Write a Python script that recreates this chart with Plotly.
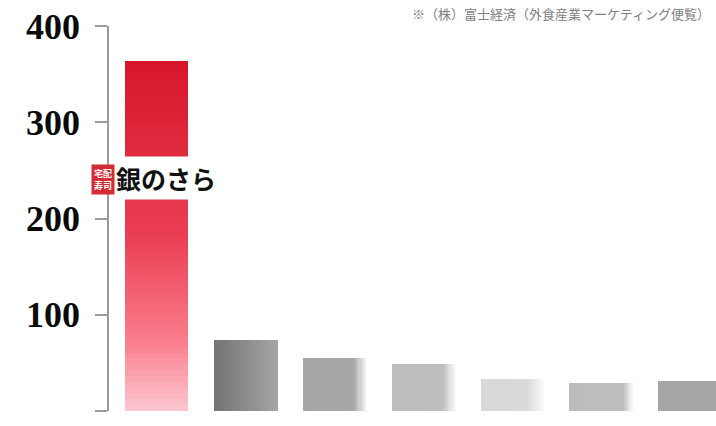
import plotly.graph_objects as go

categories = ["銀のさら", "2位", "3位", "4位", "5位", "6位", "7位"]
values = [364, 74, 55, 49, 33, 29, 31]
y_ticks = [0, 100, 200, 300, 400]

# styling
BAR_W = 0.71
red_stops = [(0.0, (214, 22, 40)), (0.5, (234, 62, 84)), (0.8, (250, 125, 140)), (1.0, (252, 200, 208))]
# per gray bar: left rgb, right rgb, fade start fraction (None = no fade)
gray_specs = [
    ((116, 116, 116), (165, 165, 165), None),
    ((166, 166, 166), (168, 168, 168), 0.80),
    ((189, 189, 189), (190, 190, 190), 0.80),
    ((217, 217, 217), (218, 218, 218), 0.75),
    ((188, 188, 188), (190, 190, 190), 0.85),
    ((166, 166, 166), (166, 166, 166), 0.95),
]


def lerp(c1, c2, t):
    return tuple(round(a + (b - a) * t) for a, b in zip(c1, c2))


def rgb(c):
    return "rgb(%d,%d,%d)" % c


def red_at(f):
    for (f0, c0), (f1, c1) in zip(red_stops[:-1], red_stops[1:]):
        if f0 <= f <= f1:
            return lerp(c0, c1, (f - f0) / (f1 - f0))
    return red_stops[-1][1]


fig = go.Figure()

# red bar: vertical gradient built from stacked segments
M = 60
for j in range(M):
    frac_top = 1 - (j + 0.5) / M
    fig.add_trace(go.Bar(
        x=[categories[0]], y=[values[0] / M * 1.02], base=[values[0] * j / M],
        width=BAR_W, offset=-BAR_W / 2,
        marker=dict(color=rgb(red_at(frac_top)), line=dict(width=0)),
        hoverinfo="skip", showlegend=False))

# gray bars: horizontal gradient built from vertical slices
N = 28
for k in range(N):
    t = (k + 0.5) / N
    cols = []
    for left, right, fade in gray_specs:
        c = lerp(left, right, t)
        if fade is not None and t > fade:
            c = lerp(c, (255, 255, 255), min(1, (t - fade) / (1 - fade)) * 0.9)
        cols.append(rgb(c))
    fig.add_trace(go.Bar(
        x=categories[1:], y=values[1:],
        width=BAR_W / N * 1.1, offset=-BAR_W / 2 + k * BAR_W / N,
        marker=dict(color=cols, line=dict(width=0)),
        hoverinfo="skip", showlegend=False))

L, R, T, B = 109, 0, 26, 15
W, H = 716, 426
pw, ph = W - L - R, H - T - B


def px(x):
    return (x - L) / pw


def py(y):
    return (H - B - y) / ph


fig.update_layout(
    width=W, height=H, margin=dict(l=L, r=R, t=T, b=B),
    paper_bgcolor="white", plot_bgcolor="white",
    barmode="overlay", bargap=0,
    xaxis=dict(type="category", range=[-0.54, 6.295], showticklabels=False,
               showgrid=False, zeroline=False, showline=False, ticks=""),
    yaxis=dict(range=[0, 400], tickvals=y_ticks, showgrid=False, zeroline=False,
               showline=True, linecolor="#9a9a9a", linewidth=1.5,
               ticks="outside", ticklen=12, tickcolor="#9a9a9a", tickwidth=1.5,
               ticklabelstandoff=8,
               tickfont=dict(family="Liberation Serif", size=36, color="#0a0a0a", weight="bold")),
    annotations=[
        dict(xref="paper", yref="paper", x=px(166), y=py(178), text="<b>銀のさら</b>",
             showarrow=False, xanchor="center", yanchor="middle",
             font=dict(family="Noto Sans CJK JP", size=25, color="#111"),
             bgcolor="white", borderpad=3),
        dict(xref="paper", yref="paper", x=px(103), y=py(179), text="<b>宅配<br>寿司</b>",
             showarrow=False, xanchor="center", yanchor="middle",
             font=dict(family="Noto Sans CJK JP", size=9, color="white"),
             bgcolor="#d52b35", borderpad=2),
        dict(xref="paper", yref="paper", x=px(712), y=py(13),
             text="※（株）富士経済（外食産業マーケティング便覧）",
             showarrow=False, xanchor="right", yanchor="middle",
             font=dict(family="Noto Sans CJK JP", size=13, color="#808080")),
    ],
)

fig.write_html("out.html")
